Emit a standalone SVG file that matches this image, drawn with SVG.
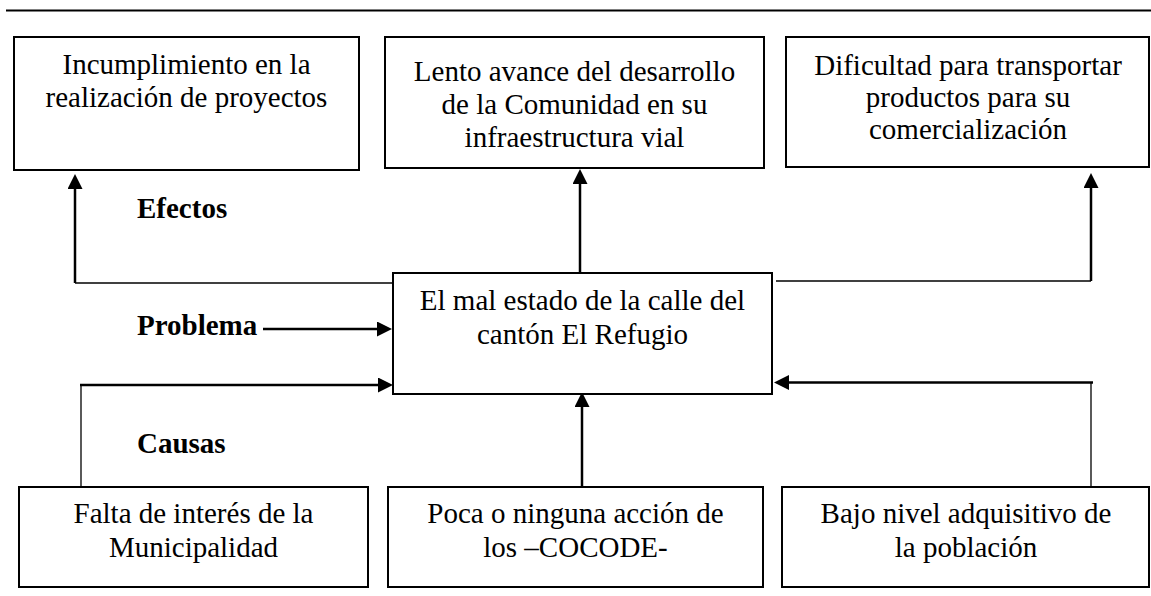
<svg xmlns="http://www.w3.org/2000/svg" width="1151" height="596" viewBox="0 0 1151 596">
<style>
.box{fill:#fff;stroke:#000;stroke-width:2}
.t{font-family:"Liberation Serif","Times New Roman",serif;font-size:29px;fill:#000;text-anchor:middle}
.b{font-family:"Liberation Serif","Times New Roman",serif;font-size:29px;font-weight:bold;fill:#000}
.thick{fill:none;stroke:#000;stroke-width:2.5}
.thin{fill:none;stroke:#000;stroke-width:1.3}
</style>
<defs>
<marker id="ah" markerUnits="userSpaceOnUse" markerWidth="16" markerHeight="16" viewBox="0 0 16 16" refX="1" refY="7.5" orient="auto">
<path d="M0,0 L15,7.5 L0,15 z" fill="#000"/>
</marker>
</defs>
<rect width="1151" height="596" fill="#fff"/>
<line x1="6" y1="10.5" x2="1151" y2="10.5" stroke="#000" stroke-width="2.2"/>

<g id="connectors">
<path class="thin" d="M392,283 H75"/>
<path class="thick" d="M75,283 V188" marker-end="url(#ah)"/>
<path class="thick" d="M580,273 V183" marker-end="url(#ah)"/>
<path class="thin" d="M776,281 H1091"/>
<path class="thick" d="M1091,281 V187" marker-end="url(#ah)"/>
<path class="thick" d="M263,329 H378" marker-end="url(#ah)"/>
<path class="thin" d="M81,487 V385"/>
<path class="thick" d="M80,385 H379" marker-end="url(#ah)"/>
<path class="thick" d="M582,487 V406" marker-end="url(#ah)"/>
<path class="thin" d="M1091,487 V383"/>
<path class="thick" d="M1093,382.5 H788" marker-end="url(#ah)"/>
</g>

<g id="efecto1">
<rect class="box" x="14" y="37" width="345" height="133"/>
<text class="t" x="186.5" y="74">Incumplimiento en la</text>
<text class="t" x="186.5" y="107">realización de proyectos</text>
</g>
<g id="efecto2">
<rect class="box" x="385" y="37" width="379" height="131"/>
<text class="t" x="574.5" y="81">Lento avance del desarrollo</text>
<text class="t" x="574.5" y="114">de la Comunidad en su</text>
<text class="t" x="574.5" y="147">infraestructura vial</text>
</g>
<g id="efecto3">
<rect class="box" x="786" y="37" width="363" height="130"/>
<text class="t" x="968" y="75">Dificultad para transportar</text>
<text class="t" x="968" y="107">productos para su</text>
<text class="t" x="968" y="139">comercialización</text>
</g>

<g id="label-efectos"><text class="b" x="137" y="218">Efectos</text></g>
<g id="label-problema"><text class="b" x="137" y="335">Problema</text></g>
<g id="label-causas"><text class="b" x="137" y="453">Causas</text></g>

<g id="problema">
<rect class="box" x="393" y="273" width="379" height="121"/>
<text class="t" x="582.5" y="310">El mal estado de la calle del</text>
<text class="t" x="582.5" y="344">cantón El Refugio</text>
</g>

<g id="causa1">
<rect class="box" x="19" y="487" width="349" height="100"/>
<text class="t" x="193.5" y="523">Falta de interés de la</text>
<text class="t" x="193.5" y="557">Municipalidad</text>
</g>
<g id="causa2">
<rect class="box" x="388" y="487" width="375" height="100"/>
<text class="t" x="575.5" y="523">Poca o ninguna acción de</text>
<text class="t" x="575.5" y="557">los –COCODE-</text>
</g>
<g id="causa3">
<rect class="box" x="782" y="487" width="367" height="100"/>
<text class="t" x="966" y="523">Bajo nivel adquisitivo de</text>
<text class="t" x="966" y="557">la población</text>
</g>
</svg>
